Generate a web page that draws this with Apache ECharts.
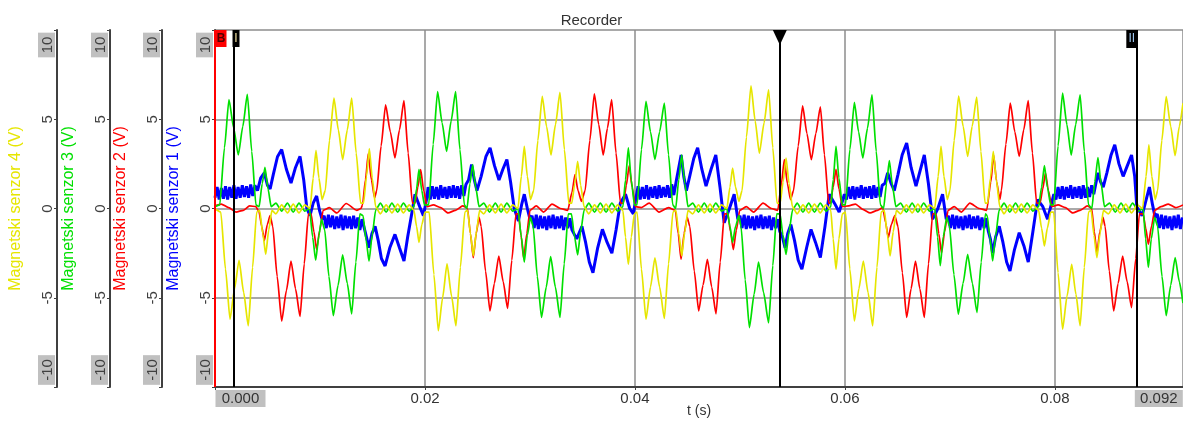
<!DOCTYPE html>
<html><head><meta charset="utf-8">
<script src="https://cdn.jsdelivr.net/npm/echarts@6/dist/echarts.min.js"></script>
<style>html,body{margin:0;padding:0;background:#fff}#c{width:1183px;height:423px}</style>
</head><body><div id="c"></div>
<script>
const FONT = "'Liberation Sans', Arial, sans-serif";
const sensorNames = ['Magnetski senzor 1 (V)','Magnetski senzor 2 (V)','Magnetski senzor 3 (V)','Magnetski senzor 4 (V)'];
const sensorColors = ['#0000ff','#ff0000','#00e000','#e6e600'];
const yTickValues = [-10,-5,0,5,10];
const xTickLabels = ['0.02','0.04','0.06','0.08'];
const cursorTimes = [0.00181, 0.0538, 0.0878];
const cursorReadouts = ['0.000','0.092'];

// [time in ms, volts]
const sensor1 = [
[0,0.6],[0.2,1.2],[0.4,0.5],[0.6,1.15],[0.8,0.55],[1.0,1.25],[1.2,0.5],[1.4,1.2],[1.6,0.6],[1.8,1.3],[2.0,0.55],[2.2,1.2],[2.4,0.6],[2.6,1.3],[2.8,0.65],[3.0,1.25],[3.2,0.6],[3.4,1.35],[3.6,0.7],[3.8,1.3],
[4.05,1.0],[4.35,1.7],[4.7,2.0],[5.0,1.3],[5.25,1.1],[5.55,1.9],[5.95,2.9],[6.35,3.3],[6.8,2.2],[7.24,1.43],[7.67,2.3],[8.1,2.92],[8.45,1.6],[8.75,0.0],[9.05,-0.4],[9.35,0.3],[9.68,0.7],[9.95,-0.1],[10.2,-0.6],
[10.4,-0.4],[10.6,-1.1],[10.8,-0.35],[11.0,-1.05],[11.2,-0.4],[11.4,-1.15],[11.6,-0.45],[11.8,-1.1],[12.0,-0.35],[12.2,-1.2],[12.4,-0.4],[12.6,-1.1],[12.8,-0.45],[13.0,-1.15],[13.2,-0.4],[13.4,-1.1],[13.6,-0.5],[13.8,-1.2],[14.0,-0.6],
[14.3,-1.3],[14.67,-2.2],[14.95,-1.4],[15.25,-1.0],[15.55,-1.8],[15.85,-2.8],[16.2,-3.22],[16.65,-2.2],[17.14,-1.45],[17.57,-2.2],[18.0,-2.94],[18.35,-1.6],[18.75,-0.25],[19.05,0.8],[19.5,0.1],[19.85,-0.4],[20.15,0.5],
[20.3,1.2],[20.5,0.5],[20.7,1.25],[20.9,0.55],[21.1,1.2],[21.3,0.5],[21.5,1.3],[21.7,0.6],[21.9,1.2],[22.1,0.55],[22.3,1.25],[22.5,0.6],[22.7,1.3],[22.9,0.6],[23.1,1.25],[23.3,0.55],[23.5,1.3],[23.7,0.7],[23.9,1.35],
[24.15,1.6],[24.44,2.46],[24.7,1.6],[24.95,1.0],[25.35,1.8],[25.8,2.9],[26.2,3.4],[26.62,2.4],[27.05,1.6],[27.42,2.2],[27.8,2.74],[28.15,1.5],[28.5,0.0],[28.9,-0.7],[29.2,0.2],[29.46,0.8],[29.75,0.0],[30.0,-0.6],
[30.2,-0.4],[30.4,-1.1],[30.6,-0.35],[30.8,-1.15],[31.0,-0.4],[31.2,-1.1],[31.4,-0.45],[31.6,-1.2],[31.8,-0.4],[32.0,-1.1],[32.2,-0.35],[32.4,-1.15],[32.6,-0.45],[32.8,-1.1],[33.0,-0.4],[33.2,-1.2],[33.4,-0.5],[33.6,-1.1],[33.8,-0.55],[34.0,-1.2],
[34.45,-1.7],[34.95,-1.0],[35.3,-1.9],[35.65,-3.0],[36.0,-3.6],[36.45,-2.2],[36.9,-1.17],[37.35,-1.9],[37.8,-2.5],[38.2,-1.2],[38.6,0.3],[39.1,0.8],[39.5,0.0],[39.85,-0.3],[40.1,0.6],
[40.3,1.25],[40.5,0.5],[40.7,1.2],[40.9,0.55],[41.1,1.3],[41.3,0.5],[41.5,1.2],[41.7,0.6],[41.9,1.25],[42.1,0.55],[42.3,1.3],[42.5,0.6],[42.7,1.2],[42.9,0.65],[43.1,1.3],[43.3,0.6],[43.5,1.35],[43.7,0.75],
[43.95,1.6],[44.4,3.0],[44.65,1.8],[44.9,1.0],[45.25,1.9],[45.6,2.8],[45.97,3.4],[46.37,2.2],[46.77,1.25],[47.25,2.2],[47.7,3.0],[48.1,1.2],[48.5,-0.8],[49.0,0.0],[49.45,0.8],[49.8,-0.6],
[50.0,-0.4],[50.2,-1.1],[50.4,-0.35],[50.6,-1.15],[50.8,-0.4],[51.0,-1.1],[51.2,-0.45],[51.4,-1.2],[51.6,-0.4],[51.8,-1.1],[52.0,-0.35],[52.2,-1.15],[52.4,-0.45],[52.6,-1.1],[52.8,-0.4],[53.0,-1.2],[53.2,-0.5],[53.4,-1.1],[53.6,-0.6],[53.8,-1.3],
[54.05,-1.6],[54.3,-2.2],[54.55,-1.4],[54.85,-0.9],[55.2,-1.8],[55.55,-2.9],[55.9,-3.4],[56.35,-2.2],[56.77,-1.17],[57.2,-1.9],[57.66,-2.75],[58.1,-1.0],[58.5,0.8],[59.0,0.3],[59.45,-0.2],[59.95,0.8],
[60.15,0.5],[60.35,1.2],[60.55,0.55],[60.75,1.25],[60.95,0.5],[61.15,1.2],[61.35,0.6],[61.55,1.3],[61.75,0.55],[61.95,1.2],[62.15,0.6],[62.35,1.25],[62.55,0.55],[62.75,1.3],[62.95,0.6],[63.15,1.2],[63.35,0.65],[63.55,1.3],
[63.8,1.4],[64.07,2.0],[64.4,1.4],[64.7,1.0],[65.05,1.9],[65.45,3.0],[65.88,3.67],[66.3,2.3],[66.77,1.25],[67.15,2.1],[67.56,3.0],[67.95,1.4],[68.35,-0.6],[68.85,0.0],[69.3,0.8],[69.65,-0.6],
[69.85,-0.4],[70.05,-1.1],[70.25,-0.35],[70.45,-1.15],[70.65,-0.4],[70.85,-1.1],[71.05,-0.45],[71.25,-1.2],[71.45,-0.4],[71.65,-1.1],[71.85,-0.35],[72.05,-1.15],[72.25,-0.45],[72.45,-1.1],[72.65,-0.4],[72.85,-1.2],[73.05,-0.5],[73.25,-1.1],[73.45,-0.55],[73.65,-1.25],
[73.85,-1.7],[74.07,-2.5],[74.35,-1.6],[74.7,-1.0],[75.05,-1.9],[75.4,-3.0],[75.72,-3.5],[76.15,-2.3],[76.6,-1.36],[77.05,-2.1],[77.46,-3.0],[77.9,-1.3],[78.35,0.5],[78.85,0.1],[79.3,-0.6],[79.9,0.8],
[80.1,0.5],[80.3,1.2],[80.5,0.55],[80.7,1.25],[80.9,0.5],[81.1,1.2],[81.3,0.6],[81.5,1.3],[81.7,0.55],[81.9,1.2],[82.1,0.6],[82.3,1.25],[82.5,0.55],[82.7,1.3],[82.9,0.6],[83.1,1.2],[83.3,0.65],[83.5,1.3],[83.7,0.8],
[83.9,1.4],[84.1,2.0],[84.35,1.5],[84.6,1.2],[84.95,2.0],[85.35,3.0],[85.7,3.57],[86.1,2.5],[86.5,1.8],[86.9,2.4],[87.3,3.0],[87.6,1.8],[87.8,0.1],[88.3,-0.4],[88.65,0.4],[89.0,1.2],[89.3,0.2],[89.55,-0.5],
[89.75,-0.3],[89.95,-1.1],[90.15,-0.35],[90.35,-1.15],[90.55,-0.4],[90.75,-1.1],[90.95,-0.45],[91.15,-1.2],[91.35,-0.4],[91.55,-1.1],[91.75,-0.35],[91.95,-1.15],[92.15,-0.5]
];

const sensor2 = [
[0,0.15],[0.6,0.25],[1.3,0.05],[2.0,-0.2],[2.7,-0.1],[3.3,0.15],[3.9,0.1],
[4.2,-0.2],[4.45,-1.0],[4.7,-1.8],[4.98,-0.9],[5.25,-0.4],
[5.5,-1.0],[5.92,-3.8],[6.35,-6.3],[6.8,-4.6],[7.24,-2.94],[7.67,-4.5],[8.1,-6.05],[8.5,-3.1],[8.9,-0.3],
[9.15,-0.3],[9.42,-1.3],[9.68,-2.3],[9.98,-1.2],[10.3,-0.1],
[10.9,0.05],[11.6,-0.25],[12.5,0.28],[13.5,-0.1],[13.9,0.0],
[14.05,0.2],[14.33,1.6],[14.6,3.07],[14.9,1.6],[15.2,0.6],
[15.4,1.0],[15.82,3.5],[16.25,5.81],[16.7,4.3],[17.14,2.83],[17.57,4.4],[18.0,6.05],[18.4,3.1],[18.8,0.3],
[19.05,0.3],[19.32,1.2],[19.59,2.18],[19.88,1.0],[20.2,0.1],
[20.8,0.2],[21.5,0.05],[22.2,-0.25],[22.9,-0.1],[23.6,0.15],[24.05,0.0],
[24.33,-1.4],[24.6,-2.76],[24.88,-1.4],[25.15,-0.5],
[25.35,-1.0],[25.77,-3.5],[26.19,-5.74],[26.61,-4.2],[27.03,-2.66],[27.45,-4.1],[27.87,-5.6],[28.27,-2.9],[28.67,-0.3],
[28.9,-0.3],[29.15,-1.5],[29.4,-2.8],[29.7,-1.4],[30.0,-0.1],
[30.6,0.15],[31.3,-0.2],[32.1,0.25],[32.9,0.0],[33.6,-0.1],
[34.0,0.9],[34.29,1.9],[34.58,1.0],[34.9,0.4],
[35.25,1.0],[35.7,3.8],[36.13,6.42],[36.55,4.7],[36.98,3.0],[37.38,4.5],[37.78,6.1],[38.2,3.1],[38.62,0.3],
[38.9,0.3],[39.18,1.3],[39.45,2.4],[39.73,1.2],[40.05,0.1],
[40.6,0.05],[41.35,0.3],[42.3,-0.2],[43.2,0.05],[43.85,-0.1],
[44.12,-1.4],[44.39,-2.85],[44.68,-1.4],[44.98,-0.5],
[45.22,-1.0],[45.65,-3.5],[46.07,-5.74],[46.48,-4.3],[46.9,-2.85],[47.31,-4.4],[47.72,-5.9],[48.12,-3.0],[48.52,-0.3],
[48.85,-0.3],[49.1,-1.3],[49.37,-2.3],[49.66,-1.2],[49.98,-0.1],
[50.6,0.1],[51.3,-0.2],[52.2,0.3],[53.0,0.0],[53.6,-0.1],
[53.95,1.4],[54.23,2.74],[54.52,1.4],[54.82,0.5],
[55.1,1.0],[55.55,3.5],[55.97,5.75],[56.38,4.2],[56.8,2.74],[57.23,4.2],[57.66,5.7],[58.05,3.0],[58.45,0.3],
[58.62,0.3],[58.88,1.2],[59.15,2.2],[59.43,1.1],[59.75,0.1],
[60.35,0.15],[61.0,0.25],[61.7,-0.05],[62.4,-0.25],[63.1,-0.1],[63.6,0.05],
[63.88,-0.8],[64.13,-1.64],[64.42,-0.9],[64.75,-0.4],
[65.05,-1.0],[65.47,-3.6],[65.88,-6.1],[66.3,-4.5],[66.72,-2.94],[67.14,-4.5],[67.56,-6.1],[67.96,-3.1],[68.36,-0.3],
[68.68,-0.3],[68.94,-1.4],[69.2,-2.5],[69.5,-1.3],[69.82,-0.1],
[70.4,0.1],[71.1,-0.2],[71.9,0.3],[72.8,0.0],[73.5,-0.1],
[73.9,1.5],[74.16,3.0],[74.45,1.5],[74.75,0.5],
[74.9,1.0],[75.33,3.6],[75.75,5.9],[76.18,4.3],[76.6,2.92],[77.03,4.4],[77.46,6.05],[77.86,3.1],[78.26,0.3],
[78.58,0.3],[78.84,1.1],[79.1,2.0],[79.38,1.0],[79.7,0.1],
[80.3,0.2],[81.0,0.05],[81.7,-0.25],[82.4,-0.1],[83.1,0.15],[83.5,0.0],
[83.75,-1.3],[84.0,-2.5],[84.28,-1.3],[84.58,-0.5],
[84.78,-1.0],[85.18,-3.5],[85.6,-5.74],[86.02,-4.2],[86.45,-2.66],[86.88,-4.1],[87.3,-5.55],[87.7,-2.8],[88.05,-0.3],
[88.4,-0.3],[88.65,-1.1],[88.9,-2.0],[89.2,-1.0],[89.5,-0.1],
[90.1,0.1],[90.8,0.25],[91.5,0.05],[92.2,0.2]
];

const sensor3 = [
[0,0.1],[0.45,0.2],[0.9,3.4],[1.33,6.1],[1.78,4.5],[2.22,3.0],[2.65,4.6],[3.08,6.4],[3.5,3.2],[3.9,0.2],
[4.2,0.1],[4.5,1.4],[4.76,2.3],[5.05,1.1],[5.35,0.1],
[5.8,0.3],[6.35,-0.15],[6.9,0.3],[7.45,-0.2],[8.0,0.3],[8.55,-0.15],
[9.0,0.0],[9.3,-1.6],[9.59,-2.9],[9.9,-1.5],[10.15,-0.6],
[10.45,-1.2],[10.85,-3.8],[11.27,-6.0],[11.72,-4.3],[12.16,-2.6],[12.6,-4.2],[13.02,-5.9],[13.42,-3.0],[13.8,-0.3],
[14.1,-0.4],[14.4,-1.8],[14.67,-2.95],[14.97,-1.5],[15.3,-0.1],
[15.75,0.3],[16.3,-0.2],[16.85,0.3],[17.4,-0.2],[17.95,0.3],[18.5,-0.15],[18.95,0.1],
[19.2,1.1],[19.43,2.2],[19.7,1.0],[19.95,0.2],
[20.35,0.2],[20.78,3.6],[21.2,6.55],[21.63,4.8],[22.06,3.2],[22.49,4.9],[22.92,6.55],[23.33,3.3],[23.75,0.2],
[24.0,0.0],[24.28,1.4],[24.54,2.46],[24.83,1.2],[25.15,0.1],
[25.6,0.3],[26.15,-0.2],[26.7,0.3],[27.25,-0.2],[27.8,0.3],[28.35,-0.15],[28.85,0.0],
[29.18,-1.6],[29.46,-3.0],[29.75,-1.5],[30.05,-0.5],
[30.3,-1.0],[30.7,-3.8],[31.1,-6.1],[31.55,-4.4],[31.97,-2.7],[32.42,-4.4],[32.86,-6.1],[33.26,-3.1],[33.65,-0.3],
[33.95,-0.3],[34.25,-1.6],[34.54,-2.6],[34.83,-1.3],[35.15,-0.1],
[35.6,0.3],[36.15,-0.2],[36.7,0.3],[37.25,-0.2],[37.8,0.3],[38.35,-0.15],[38.85,0.1],
[39.1,1.6],[39.37,3.4],[39.65,1.6],[39.95,0.2],
[40.2,0.2],[40.62,3.3],[41.05,6.0],[41.48,4.3],[41.9,2.74],[42.35,4.3],[42.8,5.9],[43.2,3.0],[43.6,0.2],
[43.88,0.0],[44.17,1.6],[44.45,3.0],[44.75,1.4],[45.05,0.1],
[45.5,0.3],[46.05,-0.2],[46.6,0.3],[47.15,-0.2],[47.7,0.3],[48.25,-0.15],[48.75,0.0],
[49.05,-1.0],[49.3,-1.9],[49.58,-1.0],[49.9,-0.4],
[50.1,-1.0],[50.5,-4.0],[50.9,-6.67],[51.35,-4.8],[51.77,-3.0],[52.25,-4.7],[52.73,-6.4],[53.13,-3.2],[53.5,-0.3],
[53.82,-0.3],[54.1,-1.5],[54.39,-2.57],[54.68,-1.3],[55.0,-0.1],
[55.45,0.3],[56.0,-0.2],[56.55,0.3],[57.1,-0.2],[57.65,0.3],[58.2,-0.15],[58.65,0.1],
[58.88,1.6],[59.15,3.48],[59.43,1.7],[59.75,0.2],
[60.05,0.2],[60.47,3.3],[60.9,5.94],[61.3,4.3],[61.7,2.83],[62.15,4.5],[62.58,6.37],[62.98,3.2],[63.38,0.2],
[63.68,0.0],[63.96,1.4],[64.23,2.68],[64.52,1.3],[64.85,0.1],
[65.3,0.3],[65.85,-0.2],[66.4,0.3],[66.95,-0.2],[67.5,0.3],[68.05,-0.15],[68.55,0.0],
[68.82,-1.6],[69.08,-3.2],[69.36,-1.6],[69.7,-0.5],
[69.95,-1.0],[70.38,-3.7],[70.8,-5.92],[71.25,-4.2],[71.69,-2.57],[72.14,-4.2],[72.58,-5.83],[72.98,-3.0],[73.38,-0.3],
[73.55,-0.4],[73.8,-1.6],[74.07,-2.94],[74.36,-1.5],[74.68,-0.1],
[75.15,0.3],[75.7,-0.2],[76.25,0.3],[76.8,-0.2],[77.35,0.3],[77.9,-0.15],[78.45,0.1],
[78.73,1.2],[79.0,2.4],[79.28,1.2],[79.6,0.2],
[79.88,0.2],[80.3,3.5],[80.73,6.46],[81.14,4.7],[81.55,3.0],[81.98,4.7],[82.4,6.37],[82.8,3.2],[83.2,0.2],
[83.52,0.0],[83.8,1.5],[84.1,2.85],[84.4,1.4],[84.72,0.1],
[85.2,0.3],[85.75,-0.2],[86.3,0.3],[86.85,-0.2],[87.4,0.3],[87.95,-0.15],[88.4,0.0],
[88.64,-1.7],[88.9,-3.3],[89.18,-1.7],[89.5,-0.5],
[89.78,-1.0],[90.2,-3.8],[90.6,-6.0],[91.03,-4.3],[91.45,-2.75],[91.85,-4.1],[92.2,-5.3]
];

const sensor4 = [
[0,0.0],[0.55,-0.2],[1.0,-3.4],[1.43,-6.2],[1.86,-4.5],[2.29,-2.9],[2.73,-4.7],[3.17,-6.57],[3.58,-3.3],[3.97,-0.2],
[4.25,-0.1],[4.55,-1.4],[4.83,-2.57],[5.12,-1.2],[5.42,-0.1],
[5.8,-0.3],[6.35,0.2],[6.9,-0.25],[7.45,0.25],[8.0,-0.25],[8.55,0.2],
[9.05,0.0],[9.35,1.7],[9.62,3.26],[9.9,1.7],[10.2,0.5],
[10.5,1.0],[10.9,3.8],[11.33,6.18],[11.75,4.4],[12.16,2.74],[12.6,4.4],[13.02,6.18],[13.45,3.1],[13.87,0.3],
[14.15,0.3],[14.43,1.8],[14.7,3.35],[14.98,1.7],[15.3,0.1],
[15.75,-0.3],[16.3,0.2],[16.85,-0.25],[17.4,0.25],[17.95,-0.25],[18.5,0.2],[18.95,-0.1],
[19.2,-1.0],[19.43,-1.9],[19.7,-0.9],[20.0,-0.2],
[20.4,-0.2],[20.85,-3.7],[21.27,-6.85],[21.68,-5.0],[22.1,-3.1],[22.53,-4.9],[22.95,-6.57],[23.37,-3.3],[23.8,-0.2],
[24.05,-0.1],[24.33,-1.4],[24.6,-2.66],[24.9,-1.3],[25.2,-0.1],
[25.6,-0.3],[26.15,0.2],[26.7,-0.25],[27.25,0.25],[27.8,-0.25],[28.35,0.2],[28.85,0.0],
[29.18,1.8],[29.46,3.48],[29.75,1.8],[30.05,0.5],
[30.35,1.0],[30.75,3.8],[31.17,6.28],[31.58,4.6],[32.0,3.0],[32.43,4.7],[32.86,6.5],[33.28,3.3],[33.7,0.3],
[33.98,0.3],[34.27,1.4],[34.54,2.64],[34.83,1.3],[35.15,0.1],
[35.6,-0.3],[36.15,0.2],[36.7,-0.25],[37.25,0.25],[37.8,-0.25],[38.35,0.2],[38.85,-0.1],
[39.1,-1.6],[39.37,-3.13],[39.65,-1.6],[39.95,-0.3],
[40.2,-0.2],[40.62,-3.4],[41.05,-6.2],[41.48,-4.4],[41.9,-2.76],[42.35,-4.4],[42.8,-6.16],[43.2,-3.1],[43.62,-0.2],
[43.9,-0.1],[44.18,-1.4],[44.45,-2.66],[44.75,-1.3],[45.05,-0.1],
[45.5,-0.3],[46.05,0.2],[46.6,-0.25],[47.15,0.25],[47.7,-0.25],[48.25,0.2],[48.75,0.0],
[49.05,1.2],[49.3,2.27],[49.58,1.2],[49.9,0.4],
[50.2,1.0],[50.62,4.0],[51.05,6.87],[51.45,4.9],[51.85,3.1],[52.3,4.8],[52.73,6.65],[53.13,3.4],[53.53,0.3],
[53.83,0.3],[54.11,1.5],[54.39,2.83],[54.68,1.4],[55.0,0.1],
[55.45,-0.3],[56.0,0.2],[56.55,-0.25],[57.1,0.25],[57.65,-0.25],[58.2,0.2],[58.65,-0.1],
[58.88,-1.7],[59.15,-3.4],[59.43,-1.7],[59.75,-0.3],
[60.05,-0.2],[60.47,-3.4],[60.9,-6.3],[61.33,-4.5],[61.75,-2.94],[62.2,-4.7],[62.64,-6.57],[63.05,-3.3],[63.45,-0.2],
[63.75,-0.1],[64.03,-1.4],[64.3,-2.66],[64.6,-1.3],[64.9,-0.1],
[65.3,-0.3],[65.85,0.2],[66.4,-0.25],[66.95,0.25],[67.5,-0.25],[68.05,0.2],[68.55,0.0],
[68.88,1.8],[69.15,3.48],[69.43,1.8],[69.75,0.5],
[70.0,1.0],[70.4,3.8],[70.83,6.3],[71.26,4.6],[71.69,2.92],[72.12,4.6],[72.55,6.24],[72.95,3.2],[73.35,0.3],
[73.58,0.3],[73.86,1.7],[74.13,3.2],[74.42,1.6],[74.75,0.1],
[75.15,-0.3],[75.7,0.2],[76.25,-0.25],[76.8,0.25],[77.35,-0.25],[77.9,0.2],[78.45,-0.1],
[78.73,-1.1],[79.0,-2.1],[79.28,-1.1],[79.6,-0.2],
[79.88,-0.2],[80.3,-3.6],[80.73,-6.76],[81.16,-4.9],[81.6,-3.13],[82.0,-4.8],[82.4,-6.57],[82.8,-3.3],[83.2,-0.2],
[83.45,-0.1],[83.72,-1.5],[84.0,-2.75],[84.3,-1.4],[84.62,-0.1],
[85.1,-0.3],[85.65,0.2],[86.2,-0.25],[86.75,0.25],[87.3,-0.25],[87.85,0.2],[88.35,0.0],
[88.68,1.8],[88.95,3.57],[89.23,1.8],[89.55,0.5],
[89.78,1.0],[90.18,3.8],[90.6,6.27],[91.03,4.6],[91.45,2.96],[91.85,4.6],[92.2,5.9]
];

const sensorData = [sensor1, sensor2, sensor3, sensor4];
const axisOffsets = [0, 53, 105, 158];
const lineWidths = [3, 1.7, 1.7, 1.7];
const smoothing = [0, 0.2, 0.2, 0.2];

const chart = echarts.init(document.getElementById('c'), null, {renderer:'canvas'});

function yAxisCfg(i) {
  return {
    type:'value', min:yTickValues[0], max:yTickValues[yTickValues.length-1], interval:5,
    position:'left', offset:axisOffsets[i],
    name:sensorNames[i], nameLocation:'middle', nameGap:33, nameRotate:90, nameMoveOverlap:false,
    nameTextStyle:{color:sensorColors[i], fontSize:16, fontFamily:FONT},
    axisLine:{show:true, onZero:false, lineStyle:{color:'#404040', width:2}},
    axisTick:{show:true, length:3, lineStyle:{color:'#404040', width:1}},
    axisLabel:{
      rotate:90, margin:2, color:'#404040', fontSize:15, fontFamily:FONT,
      formatter:function(v){
        if (v === yTickValues[yTickValues.length-1]) return '{mx|' + v + '}{sp| }';
        if (v === yTickValues[0]) return '{sp2| }{mn|' + v + '}';
        return String(v);
      },
      rich:{
        mx:{backgroundColor:'#c0c0c0', padding:[2,4,0,4], fontSize:15, color:'#404040', fontFamily:FONT},
        mn:{backgroundColor:'#c0c0c0', padding:[2,4,0,4], fontSize:15, color:'#404040', fontFamily:FONT},
        sp:{width:30, fontSize:15},
        sp2:{width:34, fontSize:15}
      }
    },
    splitLine:{show:i===0, lineStyle:{color:'#8c8c8c', width:1.5}}
  };
}

const series = sensorData.map((arr, i) => ({
  name:sensorNames[i], type:'line', xAxisIndex:0, yAxisIndex:i,
  data:arr.map(p => [p[0]/1000, p[1]]),
  showSymbol:false, symbol:'none', sampling:null, animation:false, silent:true,
  smooth:smoothing[i], smoothMonotone:'x',
  lineStyle:{color:sensorColors[i], width:lineWidths[i]},
  itemStyle:{color:sensorColors[i]}
}));

const hdr = {show:true, position:'inside', fontFamily:FONT, fontSize:12};
series[3].markLine = {
  silent:true, animation:false, symbol:['none','none'], label:{show:false}, precision:6,
  data:[
    {xAxis:0, lineStyle:{color:'#ff0000', width:2, type:'solid'}},
    {xAxis:cursorTimes[0], lineStyle:{color:'#000', width:2, type:'solid'}},
    {xAxis:cursorTimes[1], lineStyle:{color:'#000', width:2, type:'solid'}},
    {xAxis:cursorTimes[2], lineStyle:{color:'#000', width:2, type:'solid'}}
  ]
};
series[3].markPoint = {
  silent:true, animation:false,
  data:[
    {coord:[0,10], symbol:'rect', symbolSize:[11,17], symbolOffset:[6,8.5], itemStyle:{color:'#ff0000'},
      label:Object.assign({}, hdr, {formatter:'B', color:'#500000', fontWeight:'bold'})},
    {coord:[cursorTimes[0],10], symbol:'rect', symbolSize:[7,17], symbolOffset:[2,8.5], itemStyle:{color:'#000'},
      label:Object.assign({}, hdr, {formatter:'I', color:'#f0e0a0'})},
    {coord:[cursorTimes[1],10], symbol:'triangle', symbolRotate:180, symbolSize:[14,15], symbolOffset:[0,7.5], itemStyle:{color:'#000'},
      label:{show:false}},
    {coord:[cursorTimes[2],10], symbol:'rect', symbolSize:[11,18], symbolOffset:[-5,9], itemStyle:{color:'#000'},
      label:Object.assign({}, hdr, {formatter:'II', color:'#a0c8f0'})},
    {coord:[cursorTimes[0],-10], symbol:'rect', symbolSize:[50,17], symbolOffset:[6.5,11.5], itemStyle:{color:'#c0c0c0'},
      label:{show:true, position:'inside', formatter:cursorReadouts[0], color:'#333', fontSize:15, fontFamily:FONT}},
    {coord:[cursorTimes[2],-10], symbol:'rect', symbolSize:[48,17], symbolOffset:[22,11.5], itemStyle:{color:'#c0c0c0'},
      label:{show:true, position:'inside', formatter:cursorReadouts[1], color:'#333', fontSize:15, fontFamily:FONT}}
  ]
};

chart.setOption({
  animation:false,
  backgroundColor:'#ffffff',
  title:{text:'Recorder', left:'center', top:8, textStyle:{fontSize:15, fontWeight:'normal', color:'#333', fontFamily:FONT}},
  grid:{left:215, right:0, top:30, bottom:36, containLabel:false, outerBoundsMode:'none'},
  xAxis:{
    type:'value', min:0, max:0.0922, interval:0.02,
    name:'t (s)', nameLocation:'middle', nameGap:17, nameMoveOverlap:false,
    nameTextStyle:{color:'#333', fontSize:14, fontFamily:FONT},
    axisLine:{show:true, onZero:false, lineStyle:{color:'#404040', width:2}},
    axisTick:{show:true, length:3, lineStyle:{color:'#404040'}},
    axisLabel:{margin:4, color:'#333', fontSize:15, fontFamily:FONT, showMaxLabel:false,
      formatter:function(v){
        const k = Math.round(v/0.02);
        if (k < 1 || Math.abs(v - k*0.02) > 1e-6) return '';
        return xTickLabels[k-1] || '';
      }},
    splitLine:{show:true, lineStyle:{color:'#8c8c8c', width:1.5}}
  },
  yAxis:[0,1,2,3].map(yAxisCfg),
  series:series
});
</script></body></html>
